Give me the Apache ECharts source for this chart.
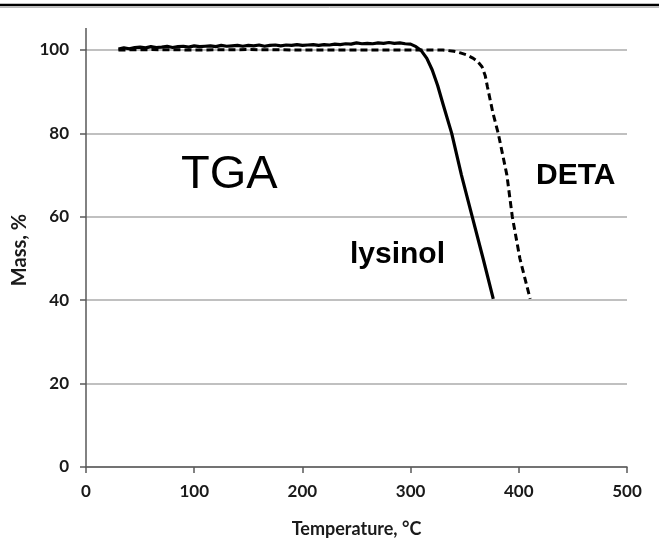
<!DOCTYPE html>
<html>
<head>
<meta charset="utf-8">
<script src="https://cdn.jsdelivr.net/npm/echarts@6/dist/echarts.min.js"></script>
<style>html,body{margin:0;padding:0;background:#fff;}#c{width:659px;height:556px;}</style>
</head>
<body>
<div id="c"></div>
<script>
// Lysinol (solid) TGA curve
var lysTemp = [30,35,40,45,50,55,60,65,70,75,80,85,90,95,100,105,110,115,120,125,130,135,140,145,150,155,160,165,170,175,180,185,190,195,200,205,210,215,220,225,230,235,240,245,250,255,260,265,270,275,280,285,290,295,300,305,310,315,320,325,330,338,347,357,367,376.4];
var lysMass = [100.2,100.5,100.3,100.6,100.7,100.5,100.8,100.6,100.7,100.9,100.6,100.8,100.9,100.7,101.0,100.8,100.9,101.0,100.8,101.1,100.9,101.0,101.1,100.9,101.1,101.0,101.2,100.9,101.1,101.2,101.0,101.2,101.1,101.3,101.1,101.2,101.3,101.1,101.3,101.2,101.4,101.3,101.5,101.4,101.7,101.5,101.6,101.5,101.7,101.6,101.8,101.6,101.7,101.5,101.4,100.8,99.8,98.0,95.2,91.5,87.0,80.0,70.0,60.0,50.0,40.3];
// DETA (dashed) TGA curve
var detaTemp = [30,60,100,150,200,250,300,330,340,346,352,358,362,366,369,371,376,381,389,394,401,410.5];
var detaMass = [100.0,100.1,100.0,100.1,100.0,100.0,100.0,100.0,99.7,99.3,98.8,98.0,97.2,96.0,93.8,91.2,85.0,80.0,70.0,60.0,50.0,40.3];
// Axis ticks
var xTicks = [0,100,200,300,400,500];
var yTicks = [0,20,40,60,80,100];

function pairs(xs, ys){ return xs.map(function(x,i){ return [x, ys[i]]; }); }

var chart = echarts.init(document.getElementById('c'), null, {renderer:'canvas'});
var axisFont = 'Lato, "Open Sans", sans-serif';
var option = {
  animation: false,
  backgroundColor: '#fff',
  grid: {left: 86, right: 32, top: 50, bottom: 89},
  xAxis: {
    type: 'value', min: xTicks[0], max: xTicks[xTicks.length-1], interval: 100,
    name: 'Temperature, °C', nameLocation: 'middle', nameGap: 53,
    nameTextStyle: {fontFamily: axisFont, fontWeight: 'bold', fontSize: 18, color: '#1a1a1a'},
    axisLine: {show: true, onZero: false, lineStyle: {color: '#595959', width: 1.5}},
    axisTick: {show: true, length: 6, lineStyle: {color: '#595959', width: 1.5}},
    axisLabel: {fontFamily: axisFont, fontWeight: 'bold', fontSize: 17, color: '#1a1a1a', margin: 16},
    splitLine: {show: false}
  },
  yAxis: {
    type: 'value', min: yTicks[0], max: yTicks[yTicks.length-1], interval: 20,
    axisLine: {show: true, lineStyle: {color: '#595959', width: 1.5}},
    axisTick: {show: true, length: 6, lineStyle: {color: '#595959', width: 1.5}},
    axisLabel: {fontFamily: axisFont, fontWeight: 'bold', fontSize: 17, color: '#1a1a1a', margin: 17},
    splitLine: {show: true, lineStyle: {color: '#ababab', width: 1.6}}
  },
  series: [
    {
      name: 'DETA', type: 'line', data: pairs(detaTemp, detaMass), showSymbol: false, symbol: 'none', clip: false,
      lineStyle: {color: '#000', width: 3, type: [7, 4]}, z: 2
    },
    {
      name: 'lysinol', type: 'line', data: pairs(lysTemp, lysMass), showSymbol: false, symbol: 'none', clip: false,
      lineStyle: {color: '#000', width: 3.2}, z: 3
    }
  ]
};
chart.setOption(option);

var p100 = chart.convertToPixel({gridIndex: 0}, [0, 100]);
chart.setOption({
  graphic: [
    {type: 'line', shape: {x1: 0, y1: 5, x2: 659, y2: 5}, style: {stroke: '#000', lineWidth: 2.5}},
    {type: 'line', shape: {x1: 0, y1: 7.5, x2: 659, y2: 7.5}, style: {stroke: '#bbb', lineWidth: 1}},
    {type: 'line', shape: {x1: p100[0], y1: p100[1], x2: p100[0], y2: p100[1] - 22}, style: {stroke: '#595959', lineWidth: 1.5}},
    {type: 'text', x: 20, y: 250, rotation: Math.PI / 2, style: {text: 'Mass, %', font: 'bold 20px Lato, "Open Sans", sans-serif', fill: '#1a1a1a', textAlign: 'center', textVerticalAlign: 'middle', align: 'center', verticalAlign: 'middle'}},
    {type: 'text', x: 181, y: 175.5, style: {text: 'TGA', font: 'normal 47px "Liberation Sans", Arial, sans-serif', fill: '#000', textVerticalAlign: 'middle', verticalAlign: 'middle'}},
    {type: 'text', x: 536, y: 176, style: {text: 'DETA', font: 'bold 30px "Liberation Sans", Arial, sans-serif', fill: '#000', textVerticalAlign: 'middle', verticalAlign: 'middle'}},
    {type: 'text', x: 350, y: 254.5, style: {text: 'lysinol', font: 'bold 30px "Liberation Sans", Arial, sans-serif', fill: '#000', textVerticalAlign: 'middle', verticalAlign: 'middle'}}
  ]
});
</script>
</body>
</html>
